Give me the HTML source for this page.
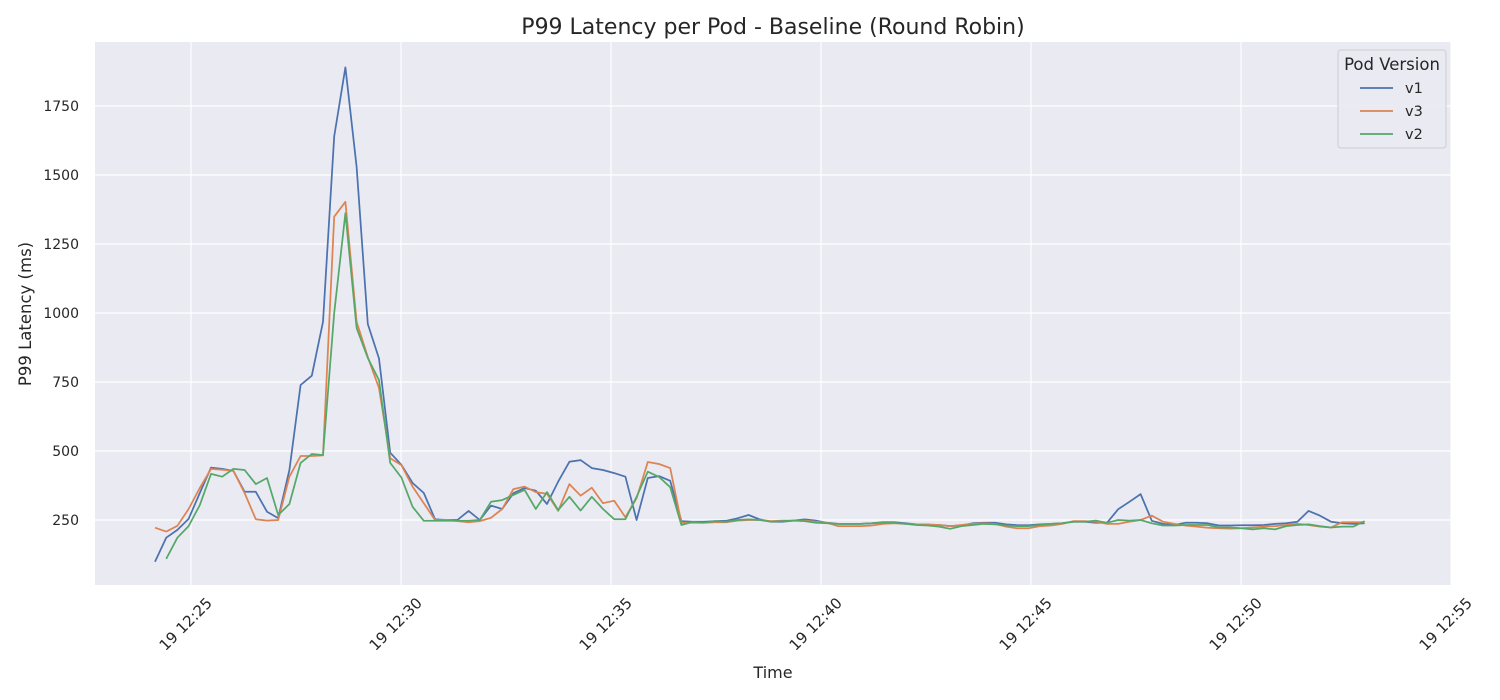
<!DOCTYPE html>
<html><head><meta charset="utf-8"><style>
html,body{margin:0;padding:0;background:#fff;}
svg{display:block;font-family:"DejaVu Sans","Liberation Sans",sans-serif;}
</style></head><body>
<svg id="chart" width="1500" height="700" viewBox="0 0 1500 700">
<rect x="95" y="42" width="1356" height="543" fill="#eaeaf2"/>
<g id="grid"></g><g id="series"></g><g id="ticks"></g>
<text x="773" y="34" text-anchor="middle" font-size="22" fill="#262626">P99 Latency per Pod - Baseline (Round Robin)</text>
<text x="773" y="678" text-anchor="middle" font-size="16" fill="#262626">Time</text>
<text transform="translate(31,314) rotate(-90)" text-anchor="middle" font-size="16.5" fill="#262626">P99 Latency (ms)</text>
<g>
<rect x="1338" y="50" width="108" height="98" rx="3" fill="#eaeaf2" stroke="#cccccc" opacity="0.9"/>
<text x="1392" y="70" text-anchor="middle" font-size="16.5" fill="#262626">Pod Version</text>
<g id="legend-entries"></g>
</g>
</svg>
<script>
const categoriesStartSec = -51.4; // seconds relative to 12:25:00
const stepSec = 16;
const seriesNames = ["v1","v3","v2"];
const seriesColors = ["#4c72b0","#dd8452","#55a868"];
const v1 = [99,186,214,254,348,440,435,428,352,352,280,257,431,739,773,968,1640,1890,1530,960,835,494,450,384,348,253,250,250,283,250,302,290,347,366,356,308,389,461,467,438,431,420,407,250,402,409,392,246,244,244,246,
247,256,268,252,244,244,248,252,248,240,236,236,236,238,242,242,238,234,232,232,228,230,238,240,240,234,231,231,234,236,238,244,244,240,240,289,316,344,247,236,232,240,240,238,230,230,231,231,232,236,238,244,283,266,244,238,236,238];
const v3 = [222,208,229,290,366,435,432,428,348,253,248,250,407,482,482,484,1349,1403,968,841,728,474,449,371,311,250,250,246,242,246,258,290,362,371,351,345,283,380,338,367,311,320,260,329,460,453,438,240,240,240,242,
242,248,250,250,246,248,248,248,244,240,228,228,228,230,236,238,236,234,234,232,228,232,236,238,236,226,220,220,228,230,236,246,246,244,236,236,244,250,266,244,236,230,226,222,220,219,220,223,226,228,232,236,232,226,223,242,242,242];
const v2 = [null,109,186,228,304,417,407,435,431,380,402,268,308,457,489,485,1000,1362,946,837,757,457,404,298,247,247,247,247,247,250,316,322,341,359,290,351,286,334,284,334,290,253,253,334,425,406,369,232,243,240,246,
244,250,252,250,244,246,248,246,240,238,236,236,236,238,240,240,236,232,230,226,218,228,232,236,234,230,228,228,232,236,238,244,244,248,240,250,248,250,238,230,230,232,232,232,223,223,220,216,220,216,228,232,234,228,223,226,226,246];
const seriesValues = [v1,v3,v2];
const yTicks = [250,500,750,1000,1250,1500,1750];
const xTickMinutes = [0,5,10,15,20,25,30];
const xTickLabels = ["19 12:25","19 12:30","19 12:35","19 12:40","19 12:45","19 12:50","19 12:55"];

const NS="http://www.w3.org/2000/svg";
function xScale(sec){return 191 + sec/60*42;}
function yScale(v){return 589 - v*0.276;}
function mk(tag,attrs,parent){const e=document.createElementNS(NS,tag);for(const k in attrs)e.setAttribute(k,attrs[k]);parent.appendChild(e);return e;}
const grid=document.getElementById('grid'),ticks=document.getElementById('ticks'),ser=document.getElementById('series');
yTicks.forEach(v=>{
  const l=mk('line',{x1:95,x2:1451,y1:yScale(v),y2:yScale(v),stroke:'#fff','stroke-width':1.2},grid);
  
  
  const t=mk('text',{x:79,y:yScale(v)+5,'text-anchor':'end','font-size':14,fill:'#262626'},ticks);
  t.textContent=v;
  
  
});
xTickMinutes.forEach((m,i)=>{
  const x=xScale(m*60);
  const l=mk('line',{x1:x,x2:x,y1:42,y2:585,stroke:'#fff','stroke-width':1.2},grid);
  
  
  const t=mk('text',{transform:`translate(${x+22},${604}) rotate(-45)`,'text-anchor':'end','font-size':15,fill:'#262626'},ticks);
  t.textContent=xTickLabels[i];
  
  
});
seriesValues.forEach((arr,si)=>{
  let d='';
  arr.forEach((v,i)=>{ if(v==null) return; const x=xScale(categoriesStartSec+i*stepSec), y=yScale(v); d+=(d?'L':'M')+x.toFixed(1)+','+y.toFixed(1);});
  const p=mk('path',{d:d,fill:'none',stroke:seriesColors[si],'stroke-width':1.75,'stroke-linejoin':'round'},ser);
  
  
});
const le=document.getElementById('legend-entries');
seriesNames.forEach((n,i)=>{
  const y=88+i*23;
  const g=mk('g',{},le);
  
  
  mk('line',{x1:1360,x2:1393,y1:y,y2:y,stroke:seriesColors[i],'stroke-width':1.8},g);
  const t=mk('text',{x:1405,y:y+5,'font-size':14.5,fill:'#262626'},g);
  t.textContent=n;
});
</script>
</body></html>
